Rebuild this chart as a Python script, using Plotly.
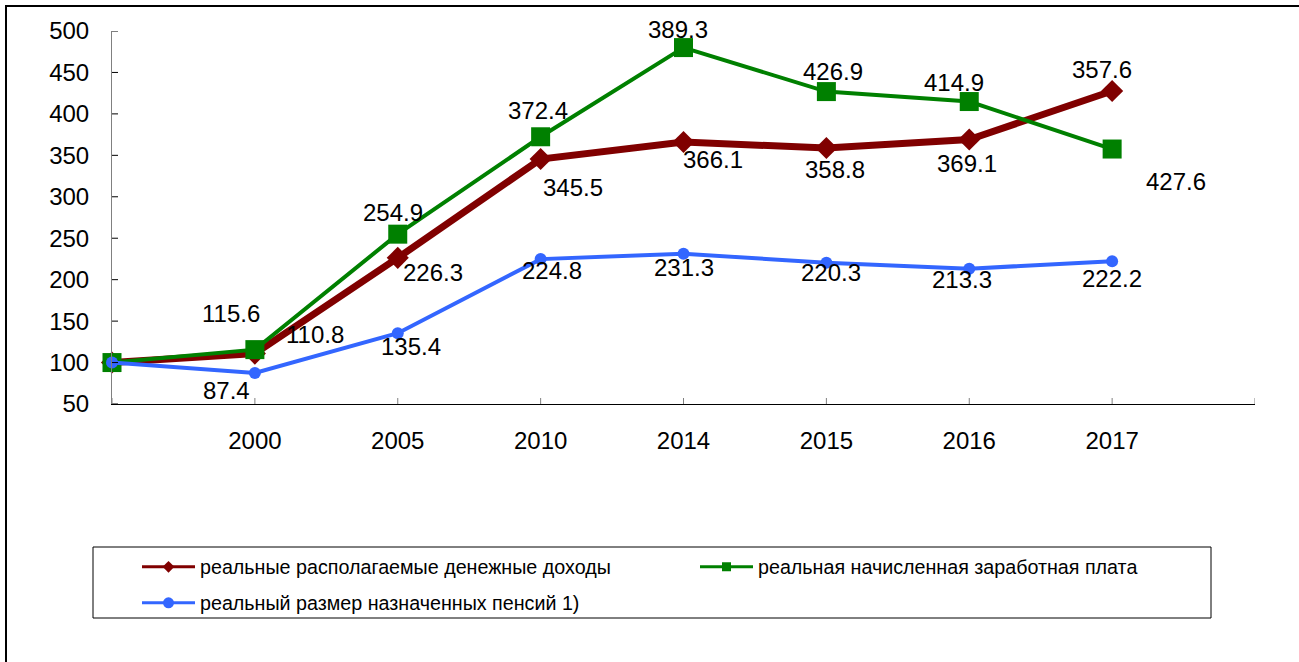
import plotly.graph_objects as go

# ---- data ----
categories = ["", "2000", "2005", "2010", "2014", "2015", "2016", "2017"]
income_values = [100, 110.8, 226.3, 345.5, 366.1, 358.8, 369.1, 427.6]
wage_values = [100, 115.6, 254.9, 372.4, 480.0, 426.9, 414.9, 357.6]
pension_values = [100, 87.4, 135.4, 224.8, 231.3, 220.3, 213.3, 222.2]

income_labels = ["", "110.8", "226.3", "345.5", "366.1", "358.8", "369.1", "357.6"]
wage_labels = ["", "115.6", "254.9", "372.4", "389.3", "426.9", "414.9", "427.6"]
pension_labels = ["", "87.4", "135.4", "224.8", "231.3", "220.3", "213.3", "222.2"]

names = [
    "реальные располагаемые денежные доходы",
    "реальная начисленная заработная плата",
    "реальный размер назначенных пенсий 1)",
]
y_ticks = [50, 100, 150, 200, 250, 300, 350, 400, 450, 500]

# ---- label offsets (screen px: dx right, dy down) ----
income_off = [(0, 0), (60, -19), (35, 15), (32, 28), (29, 18), (9, 21), (-2, 24), (-10, -22)]
wage_off = [(0, 0), (-24, -36), (-5, -22), (-3, -26), (-6, -18), (7, -20), (-15, -19), (64, 32)]
pension_off = [(0, 0), (-28, 17), (13, 13), (11, 11), (0, 14), (5, 10), (-7, 11), (0, 17)]

W, H = 1299, 662
L, R, T, B = 112, 44, 31, 258
PW, PH = W - L - R, H - T - B


def px_x(px):
    return (px - L) / PW


def px_y(py):
    return (H - B - py) / PH


FONT = "Liberation Sans, Arial, sans-serif"
xpos = list(range(len(categories)))

styles = [
    dict(color="#800000", lw=7, sym="diamond", ms=17, lw_leg=3, ms_leg=9, legend="legend"),
    dict(color="#008000", lw=4, sym="square", ms=19, lw_leg=3, ms_leg=9, legend="legend2"),
    dict(color="#3366ff", lw=4, sym="circle", ms=12, lw_leg=3, ms_leg=11, legend="legend3"),
]
series = [income_values, wage_values, pension_values]

fig = go.Figure()
for name, vals, st in zip(names, series, styles):
    fig.add_trace(go.Scatter(
        x=xpos, y=vals, name=name, mode="lines+markers",
        line=dict(color=st["color"], width=st["lw"]),
        marker=dict(symbol=st["sym"], size=st["ms"], color=st["color"]),
        cliponaxis=False, showlegend=False, hoverinfo="skip",
    ))
# legend entries (same series, smaller legend symbols)
for name, st in zip(names, styles):
    fig.add_trace(go.Scatter(
        x=[None], y=[None], name=name, mode="lines+markers",
        line=dict(color=st["color"], width=st["lw_leg"]),
        marker=dict(symbol=st["sym"], size=st["ms_leg"], color=st["color"]),
        legend=st["legend"], showlegend=True,
    ))

annotations = []
for vals, labs, offs in [(income_values, income_labels, income_off),
                         (wage_values, wage_labels, wage_off),
                         (pension_values, pension_labels, pension_off)]:
    for i, (v, t) in enumerate(zip(vals, labs)):
        if not t:
            continue
        dx, dy = offs[i]
        annotations.append(dict(
            x=xpos[i], y=v, text=t, showarrow=False,
            xshift=dx, yshift=-dy, xanchor="center", yanchor="middle",
            font=dict(family=FONT, size=24, color="black"),
        ))

shapes = []
# crossing tick marks on y axis
for v in y_ticks:
    shapes.append(dict(type="line", xref="x", yref="y", xsizemode="pixel", xanchor=0,
                       x0=-7, x1=6, y0=v, y1=v, line=dict(color="black", width=1)))
# crossing tick marks on x axis
for i in range(len(categories) + 1):
    shapes.append(dict(type="line", xref="x", yref="y", ysizemode="pixel", yanchor=50,
                       x0=i, x1=i, y0=-7, y1=6, line=dict(color="#808080", width=1)))
# legend frame
shapes.append(dict(type="rect", xref="paper", yref="paper",
                   x0=px_x(93), x1=px_x(1211), y0=px_y(618), y1=px_y(547),
                   line=dict(color="black", width=1), fillcolor="rgba(0,0,0,0)"))
# outer chart border
shapes.append(dict(type="rect", xref="paper", yref="paper",
                   x0=px_x(6), x1=px_x(1310), y0=px_y(675), y1=px_y(6),
                   line=dict(color="black", width=2), fillcolor="rgba(0,0,0,0)"))

legend_common = dict(
    orientation="h", bgcolor="rgba(0,0,0,0)", borderwidth=0,
    font=dict(family=FONT, size=19.7, color="black"),
    itemwidth=53, xanchor="left", yanchor="middle",
    xref="container", yref="container",
)

fig.update_layout(
    width=W, height=H,
    margin=dict(l=L, r=R, t=T, b=B, autoexpand=False),
    paper_bgcolor="white", plot_bgcolor="white",
    font=dict(family=FONT, size=24, color="black"),
    showlegend=True,
    xaxis=dict(
        range=[0, len(categories)], tickmode="array",
        tickvals=list(range(len(categories) + 1)),
        ticktext=categories + [""],
        ticks="", showgrid=False, zeroline=False,
        showline=True, linecolor="black", linewidth=1,
        tickfont=dict(family=FONT, size=24), ticklabelstandoff=15,
    ),
    yaxis=dict(
        range=[50, 500], tickmode="array", tickvals=y_ticks,
        ticks="", showgrid=False, zeroline=False,
        showline=True, linecolor="#808080", linewidth=1,
        tickfont=dict(family=FONT, size=24), ticklabelstandoff=17,
    ),
    legend=dict(x=137 / W, y=1 - 567 / H, **legend_common),
    legend2=dict(x=695 / W, y=1 - 567 / H, **legend_common),
    legend3=dict(x=137 / W, y=1 - 603 / H, **legend_common),
    annotations=annotations,
    shapes=shapes,
)

fig.write_html(
    "out.html",
    config=dict(displayModeBar=False),
    post_script="document.body.style.margin='0';document.body.style.overflow='hidden';",
)
